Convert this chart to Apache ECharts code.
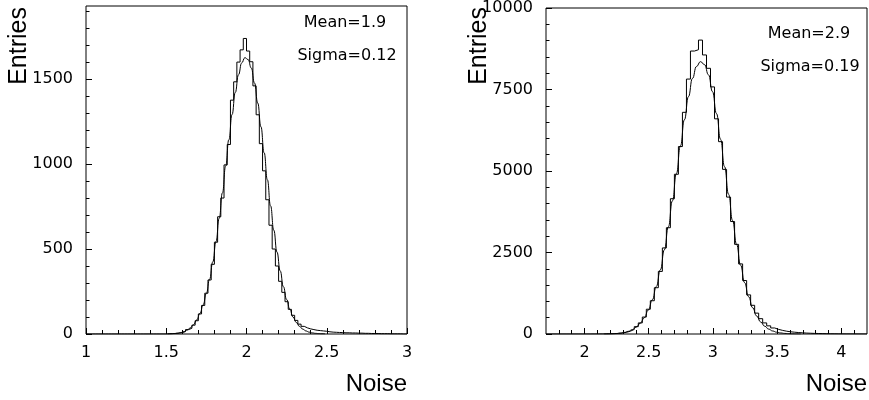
<!DOCTYPE html>
<html><head><meta charset="utf-8">
<script src="https://cdn.jsdelivr.net/npm/echarts@6/dist/echarts.min.js"></script>
<style>html,body{margin:0;padding:0;background:#fff}#c{width:869px;height:400px}</style>
</head><body><div id="c"></div><script>
// ---------- Left panel data ----------
const leftBinStart = 1.0;
const leftBinWidth = 0.02;
const leftCounts = [
  0,0,0,0,0,0,0,0,0,0,0,0,0,0,0,0,0,0,0,0,0,0,0,0,0,
  1,2,3,5,8,14,26,34,52,78,118,168,240,318,410,540,690,800,995,1115,1376,1484,1600,1672,1739,
  1665,1602,1460,1290,1120,960,790,640,500,400,310,245,190,145,110,80,58,45,36,30,26,22,20,18,16,
  13,11,10,9,8,7,7,6,6,5,5,4,4,3,3,3,2,2,2,1,1,1,1,0,0
];
const leftFitStart = 1.51;
const leftFitStep = 0.02;
const leftFit = [
  0.9,1.6,2.9,5.0,8.5,14,23,36,55,83,121,172,239,322,424,544,681,830,987,1143,1291,1421,1525,1595,1626,
  1615,1565,1477,1359,1219,1066,908,754,611,482,371,278,203,145,100,68,45,29,18,11,6.6,3.8,2.2,1.2,0.6
];
const leftXMajor = [1, 1.5, 2, 2.5, 3];
const leftXMinor = [1.1,1.2,1.3,1.4,1.6,1.7,1.8,1.9,2.1,2.2,2.3,2.4,2.6,2.7,2.8,2.9];
const leftYMajor = [0, 500, 1000, 1500];
const leftYMinor = [100,200,300,400,600,700,800,900,1100,1200,1300,1400,1600,1700,1800,1900];
const leftYMax = 1930;

// ---------- Right panel data ----------
const rightBinStart = 1.7;
const rightBinWidth = 0.03125;
const rightCounts = [
  0,0,0,0,0,0,0,0,0,0,0,
  1,1,2,3,5,9,16,28,50,84,140,225,340,520,760,1020,1420,1920,2640,3260,4150,4900,5750,6800,7820,8680,8720,
  9016,8560,8150,7580,6600,5900,5050,4200,3450,2750,2150,1640,1200,880,640,470,340,250,185,140,110,85,68,
  55,44,35,28,23,18,15,12,10,8,7,5,4,3,3,2,1,1,0
];
const rightFitStart = 2.153125;
const rightFitStep = 0.03125;
const rightFit = [
  2.3,4.4,8.4,15,28,48,81,133,213,331,500,735,1049,1458,1967,2581,3291,4083,4921,5768,6571,7280,7839,8206,
  8354,8264,7950,7433,6758,5973,5133,4287,3482,2748,2110,1573,1142,805,552,368,239,150,92,55,32,18,9.8,5,2.5,1.2
];
const rightXMajor = [2, 2.5, 3, 3.5, 4];
const rightXMinor = [1.8,1.9,2.1,2.2,2.3,2.4,2.6,2.7,2.8,2.9,3.1,3.2,3.3,3.4,3.6,3.7,3.8,3.9,4.1];
const rightYMajor = [0, 2500, 5000, 7500, 10000];
const rightYMinor = [500,1000,1500,2000,3000,3500,4000,4500,5500,6000,6500,7000,8000,8500,9000,9500];
const rightXMin = 1.7, rightXMax = 4.2, rightYMax = 10000;

const statsLeft = ['Mean=1.9', 'Sigma=0.12'];
const statsRight = ['Mean=2.9', 'Sigma=0.19'];

// ---------- build ----------
function histData(start, w, counts) {
  const d = counts.map((v, i) => [+(start + i * w).toFixed(6), v]);
  d.push([+(start + counts.length * w).toFixed(6), counts[counts.length - 1]]);
  return d;
}
function fitData(start, step, vals) {
  return vals.map((v, i) => [+(start + i * step).toFixed(6), v]);
}
const tickFont = { fontFamily: 'DejaVu Sans', fontSize: 16, color: '#000' };
const plain = v => String(v);

function xAxes(gi, min, max, major, minor) {
  return [
    { gridIndex: gi, type: 'value', min, max, position: 'bottom',
      axisLine: { show: false }, splitLine: { show: false },
      axisTick: { show: true, inside: true, length: 6, customValues: major, lineStyle: { color: '#000' } },
      axisLabel: Object.assign({ customValues: major, margin: 11, formatter: plain }, tickFont) },
    { gridIndex: gi, type: 'value', min, max, position: 'bottom',
      axisLine: { show: false }, splitLine: { show: false },
      axisTick: { show: true, inside: true, length: 4, customValues: minor, lineStyle: { color: '#000' } },
      axisLabel: { show: false } }
  ];
}
function yAxes(gi, max, major, minor) {
  return [
    { gridIndex: gi, type: 'value', min: 0, max, position: 'left',
      axisLine: { show: false }, splitLine: { show: false },
      axisTick: { show: true, inside: true, length: 6, customValues: major, lineStyle: { color: '#000' } },
      axisLabel: Object.assign({ customValues: major, margin: 13, formatter: plain }, tickFont) },
    { gridIndex: gi, type: 'value', min: 0, max, position: 'left',
      axisLine: { show: false }, splitLine: { show: false },
      axisTick: { show: true, inside: true, length: 3.5, customValues: minor, lineStyle: { color: '#000' } },
      axisLabel: { show: false } }
  ];
}
const lineBase = { type: 'line', symbol: 'none', animation: false, clip: true,
  lineStyle: { color: '#000', width: 1 }, itemStyle: { color: '#000' } };

const option = {
  animation: false,
  backgroundColor: '#fff',
  grid: [
    { left: 86, top: 6, width: 321, height: 328, show: true, borderColor: '#000', borderWidth: 1, backgroundColor: 'transparent' },
    { left: 546, top: 6, width: 321, height: 328, show: true, borderColor: '#000', borderWidth: 1, backgroundColor: 'transparent' }
  ],
  xAxis: [].concat(xAxes(0, 1, 3, leftXMajor, leftXMinor), xAxes(1, rightXMin, rightXMax, rightXMajor, rightXMinor)),
  yAxis: [].concat(yAxes(0, leftYMax, leftYMajor, leftYMinor), yAxes(1, rightYMax, rightYMajor, rightYMinor)),
  series: [
    Object.assign({}, lineBase, { xAxisIndex: 0, yAxisIndex: 0, step: 'end', data: histData(leftBinStart, leftBinWidth, leftCounts) }),
    Object.assign({}, lineBase, { xAxisIndex: 0, yAxisIndex: 0, smooth: true, smoothMonotone: 'x', data: fitData(leftFitStart, leftFitStep, leftFit) }),
    Object.assign({}, lineBase, { xAxisIndex: 2, yAxisIndex: 2, step: 'end', data: histData(rightBinStart, rightBinWidth, rightCounts) }),
    Object.assign({}, lineBase, { xAxisIndex: 2, yAxisIndex: 2, smooth: true, smoothMonotone: 'x', data: fitData(rightFitStart, rightFitStep, rightFit) })
  ],
  graphic: [
    { type: 'text', x: 19, y: 7, rotation: Math.PI / 2, style: { text: 'Entries', font: '25px "Liberation Sans"', fill: '#000', textAlign: 'right', textVerticalAlign: 'middle' } },
    { type: 'text', x: 479, y: 7, rotation: Math.PI / 2, style: { text: 'Entries', font: '25px "Liberation Sans"', fill: '#000', textAlign: 'right', textVerticalAlign: 'middle' } },
    { type: 'text', x: 407, y: 384, style: { text: 'Noise', font: '24px "Liberation Sans"', fill: '#000', textAlign: 'right', textVerticalAlign: 'middle' } },
    { type: 'text', x: 867, y: 384, style: { text: 'Noise', font: '24px "Liberation Sans"', fill: '#000', textAlign: 'right', textVerticalAlign: 'middle' } },
    { type: 'text', x: 345, y: 22.5, style: { text: statsLeft[0], font: '16px "DejaVu Sans"', fill: '#000', textAlign: 'center', textVerticalAlign: 'middle' } },
    { type: 'text', x: 347, y: 56, style: { text: statsLeft[1], font: '16px "DejaVu Sans"', fill: '#000', textAlign: 'center', textVerticalAlign: 'middle' } },
    { type: 'text', x: 809, y: 34, style: { text: statsRight[0], font: '16px "DejaVu Sans"', fill: '#000', textAlign: 'center', textVerticalAlign: 'middle' } },
    { type: 'text', x: 810, y: 67, style: { text: statsRight[1], font: '16px "DejaVu Sans"', fill: '#000', textAlign: 'center', textVerticalAlign: 'middle' } }
  ]
};
const chart = echarts.init(document.getElementById('c'), null, { renderer: 'canvas' });
chart.setOption(option);
</script></body></html>
